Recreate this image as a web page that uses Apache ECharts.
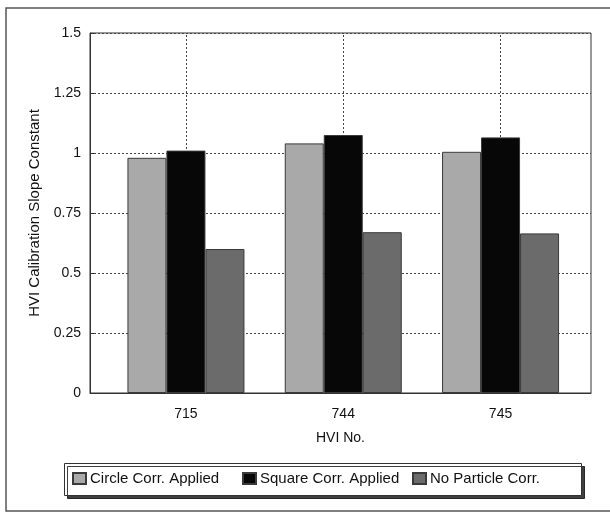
<!DOCTYPE html>
<html>
<head>
<meta charset="utf-8">
<script src="https://cdn.jsdelivr.net/npm/echarts@6/dist/echarts.min.js"></script>
<style>html,body{margin:0;padding:0;background:#fff;}#c{width:610px;height:512px;}</style>
</head>
<body>
<div id="c"></div>
<script>
const categories = ['715', '744', '745'];
const seriesNames = ['Circle Corr. Applied', 'Square Corr. Applied', 'No Particle Corr.'];
const circleCorr = [0.98, 1.04, 1.005];
const squareCorr = [1.01, 1.075, 1.065];
const noParticleCorr = [0.60, 0.67, 0.665];
const yTicks = [0, 0.25, 0.5, 0.75, 1, 1.25, 1.5];

const chart = echarts.init(document.getElementById('c'));
const font = 'Liberation Sans, Arial, sans-serif';
const toPairs = arr => categories.map((c, i) => [i, arr[i]]);
const colors = ['#a9a9a9', '#070707', '#6b6b6b'];
const values = [circleCorr, squareCorr, noParticleCorr];
const legendLeft = [72, 242, 412];

const series = values.map((arr, k) => ({
  name: seriesNames[k],
  type: 'bar',
  data: toPairs(arr),
  barWidth: 39,
  barGap: '0%',
  itemStyle: { color: colors[k], borderColor: '#3a3a3a', borderWidth: 1 },
  z: 2
}));
// vertical dotted gridlines at category centres (middle series is centred on its category)
series[1].markLine = {
  silent: true,
  symbol: ['none', 'none'],
  z: 1,
  label: { show: false },
  lineStyle: { color: '#444', width: 1, type: [2, 2] },
  data: categories.map((c, i) => ({ xAxis: i }))
};

const legends = seriesNames.map((n, k) => ({
  data: [n],
  left: legendLeft[k], top: 471,
  orient: 'horizontal',
  itemWidth: 13, itemHeight: 11,
  padding: 0,
  icon: 'rect',
  textStyle: { fontSize: 15, color: '#111', fontFamily: font, padding: [0, 0, 0, -1] }
}));

chart.setOption({
  animation: false,
  backgroundColor: '#fff',
  textStyle: { fontFamily: font },
  graphic: [{
    type: 'rect',
    shape: { x: 6, y: 8, width: 610, height: 503 },
    style: { fill: 'none', stroke: '#555', lineWidth: 1.5 },
    silent: true
  }, {
    type: 'rect',
    shape: { x: 64.5, y: 463.5, width: 517, height: 32 },
    style: { fill: '#fff', stroke: '#333', lineWidth: 1, shadowColor: 'rgba(0,0,0,0.75)', shadowOffsetX: 3, shadowOffsetY: 3, shadowBlur: 0 },
    silent: true
  }],
  grid: { left: 90, top: 33, right: 19, bottom: 119, show: true, borderColor: '#333', borderWidth: 1 },
  legend: legends,
  xAxis: {
    type: 'value',
    min: -0.61, max: 2.575,
    name: 'HVI No.',
    nameLocation: 'middle',
    nameGap: 38,
    nameTextStyle: { fontSize: 14, color: '#111', fontFamily: font },
    axisLine: { show: true, onZero: false, lineStyle: { color: '#333' } },
    axisTick: { show: false },
    splitLine: { show: false },
    axisLabel: {
      customValues: categories.map((c, i) => i),
      formatter: v => categories[Math.round(v)] || '',
      fontSize: 14, color: '#111', margin: 14, fontFamily: font
    }
  },
  yAxis: {
    type: 'value',
    min: 0, max: 1.5, interval: 0.25,
    name: 'HVI Calibration Slope Constant',
    nameLocation: 'middle',
    nameRotate: 90,
    nameGap: 48,
    nameTextStyle: { fontSize: 15, color: '#111', fontFamily: font },
    axisLine: { show: true, onZero: false, lineStyle: { color: '#333' } },
    axisTick: { show: true, inside: true, length: 4, lineStyle: { color: '#333' } },
    splitLine: { show: true, lineStyle: { color: '#444', width: 1, type: [2, 2] } },
    axisLabel: {
      fontSize: 14, color: '#111', margin: 9, fontFamily: font,
      formatter: v => { const t = yTicks.find(x => Math.abs(x - v) < 1e-9); return t === undefined ? '' : String(t); }
    }
  },
  series: series
});
</script>
</body>
</html>
